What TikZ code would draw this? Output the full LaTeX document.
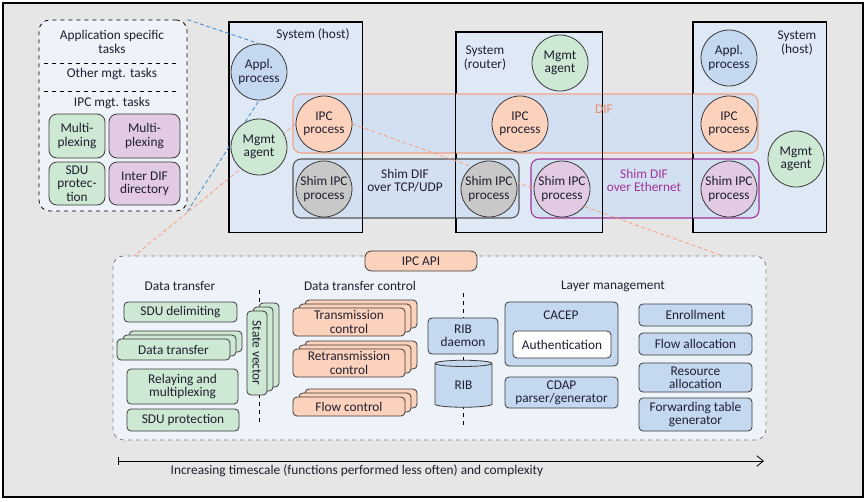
\documentclass[tikz,border=0pt]{standalone}
\usepackage{fontspec}
\setmainfont{Carlito}
\usepackage{tikz}
\usetikzlibrary{fit,shadows,shapes.geometric,arrows.meta}
\definecolor{bggray}{HTML}{E6E6E6}
\definecolor{panel}{HTML}{EEF3FA}
\definecolor{sysfill}{HTML}{DFE9F5}
\definecolor{diffill}{HTML}{D3E0F1}
\definecolor{applblue}{HTML}{C4D8EF}
\definecolor{agentgreen}{HTML}{CDE8D3}
\definecolor{ipcpeach}{HTML}{FDD2BC}
\definecolor{shimgray}{HTML}{C8C8C8}
\definecolor{shimpurple}{HTML}{E2CAE2}
\definecolor{difline}{HTML}{F4A283}
\definecolor{diftext}{HTML}{F08C64}
\definecolor{shimline}{HTML}{555555}
\definecolor{ethline}{HTML}{A1339A}
\definecolor{linkblue}{HTML}{3D8BD0}
\definecolor{linkorange}{HTML}{F4A080}
\definecolor{ink}{HTML}{1F1F30}
\definecolor{edge}{HTML}{3A3A3A}
\newcommand{\rinaprocsize}{42pt}
\pgfdeclarelayer{background}
\pgfdeclarelayer{links}
\pgfsetlayers{background,links,main}

\begin{document}
\begin{tikzpicture}[x=0.75pt,y=-0.75pt,
		every node/.style={font=\fontsize{10}{10}\selectfont,text=ink},
		proc/.style={circle,draw=edge,fill=#1,minimum size=\rinaprocsize,inner sep=0pt,align=center,line width=0.6pt},
		rbox/.style={draw=edge,fill=#1,rounded corners=3pt,inner sep=0pt,line width=0.6pt},
		rstack/.style={rbox=#1,double copy shadow={shadow xshift=4.5pt,shadow yshift=3pt}},
		boxtext/.style={align=center,inner sep=0pt},
		region/.style={draw=#1,fill=diffill,rounded corners=6pt,inner sep=0pt,line width=0.8pt},
		zoomline/.style={draw=#1,dash pattern=on 3pt off 2pt,line width=0.6pt}]
	\useasboundingbox (0,0) rectangle (867,501);
	\begin{pgfonlayer}{background}
	\node[fit={(3,3) (863,497)},draw=black,fill=bggray,inner sep=0pt,line width=0.9pt] (frame) {};
	\node[fit={(39,20) (187,211)},draw=black,dashed,fill=panel,rounded corners=8pt,inner sep=0pt,line width=0.6pt] (tasks) {};
	% systems
	\node[fit={(229,22) (362,232)},draw=black,fill=sysfill,inner sep=0pt] (sysL) {};
	\node[fit={(456,32) (602,232)},draw=black,fill=sysfill,inner sep=0pt] (sysR) {};
	\node[fit={(693,22) (826,232)},draw=black,fill=sysfill,inner sep=0pt] (sysH) {};
	% DIFs
	\node[fit={(293,94) (758,153)},region=difline] (dif) {};
	\node[fit={(293,159) (519,218)},region=shimline] (shimTCP) {};
	\node[fit={(531,159) (759,218)},region=ethline] (shimEth) {};
	\foreach \s in {sysL,sysR,sysH}
		\draw[black,line width=0.6pt] (\s.north west) rectangle (\s.south east);
	% detail of the IPC process
	\node[fit={(113,256) (766,440)},draw=gray,dashed,fill=panel,rounded corners=8pt,inner sep=0pt,line width=0.6pt] (detail) {};
	\end{pgfonlayer}

	% task panel
	\node[align=center] (appTasks) at (112,42) {Application specific\\tasks};
	\draw[dashed,line width=0.6pt] (44,63) -- (179,63);
	\node (otherTasks) at (112,74) {Other mgt. tasks};
	\draw[dashed,line width=0.6pt] (44,91) -- (179,91);
	\node (ipcTasks) at (112,103) {IPC mgt. tasks};
	\node[fit={(49,114) (105,158)},rbox=agentgreen,rounded corners=6pt,label={[boxtext]center:{Multi-\\plexing}}] (muxA) {};
	\node[fit={(109,114) (180,158)},rbox=shimpurple,rounded corners=6pt,label={[boxtext]center:{Multi-\\plexing}}] (muxB) {};
	\node[fit={(49,162) (105,205)},rbox=agentgreen,rounded corners=6pt,label={[boxtext]center:{SDU\\protec-\\tion}}] (sduProt) {};
	\node[fit={(109,162) (180,205)},rbox=shimpurple,rounded corners=6pt,label={[boxtext]center:{Inter DIF\\directory}}] (interDir) {};

	% labels
	\node (sysLlab) at (313,35) {System (host)};
	\node[align=center] (sysRlab) at (485,58) {System\\(router)};
	\node[align=center] (sysHlab) at (797,43) {System\\(host)};
	\node[text=diftext] (difLab) at (604,109) {DIF};
	\node[align=center] (tcpLab) at (405,180.5) {Shim DIF\\over TCP/UDP};
	\node[align=center,text=ethline] (ethLab) at (644,180.5) {Shim DIF\\over Ethernet};

	% processes
	\node[proc=applblue] (apA) at (259,72) {Appl.\\process};
	\node[proc=agentgreen] (agA) at (259,147) {Mgmt\\agent};
	\node[proc=ipcpeach] (ipcA) at (324,124) {IPC\\process};
	\node[proc=shimgray] (shimA) at (324,189) {Shim IPC\\process};
	\node[proc=agentgreen] (agR) at (560,63) {Mgmt\\agent};
	\node[proc=ipcpeach] (ipcR) at (520,124) {IPC\\process};
	\node[proc=shimgray] (shimR) at (489,189) {Shim IPC\\process};
	\node[proc=shimpurple] (ethR) at (562,189) {Shim IPC\\process};
	\node[proc=applblue] (apH) at (729,58) {Appl.\\process};
	\node[proc=ipcpeach] (ipcH) at (729,124) {IPC\\process};
	\node[proc=shimpurple] (ethH) at (729,189) {Shim IPC\\process};
	\node[proc=agentgreen] (agH) at (796,159) {Mgmt\\agent};

	% IPC process detail
	\node[fit={(365,251) (477,271)},rbox=ipcpeach,rounded corners=5pt,label={[boxtext]center:IPC API}] (ipcApi) {};
	\node (dtHead) at (180,286) {Data transfer};
	\node (dtcHead) at (360,286) {Data transfer control};
	\node (lmHead) at (613,286) {Layer management};
	\coordinate (sepAtop) at (259,290);
	\coordinate (sepAbot) at (259,423);
	\coordinate (sepBtop) at (463,293);
	\coordinate (sepBbot) at (463,427);
	\draw[dashed,line width=0.6pt] (sepAtop) -- (sepAbot);
	\draw[dashed,line width=0.6pt] (sepBtop) -- (sepBbot);

	\node[fit={(124,302) (237,322)},rbox=agentgreen,label={[boxtext]center:SDU delimiting}] (sduDelim) {};
	\node[fit={(117,339) (230,360)},rstack=agentgreen,label={[boxtext]center:Data transfer}] (dataT) {};
	\node[fit={(127,369) (238,404)},rbox=agentgreen,label={[boxtext]center:{Relaying and\\multiplexing}}] (relay) {};
	\node[fit={(127,409) (239,431)},rbox=agentgreen,label={[boxtext]center:SDU protection}] (sduProtB) {};
	\node[fit={(247,311) (267,395)},rstack=agentgreen,label={[boxtext,rotate=-90]center:State vector}] (stateV) {};

	\node[fit={(293,308) (405,336)},rstack=ipcpeach,label={[boxtext]center:{Transmission\\control}}] (txCtl) {};
	\node[fit={(293,349) (405,377)},rstack=ipcpeach,label={[boxtext]center:{Retransmission\\control}}] (rtxCtl) {};
	\node[fit={(293,397) (405,416)},rstack=ipcpeach,label={[boxtext]center:Flow control}] (flowCtl) {};

	\node[fit={(428,318) (498,354)},rbox=applblue,label={[boxtext]center:{RIB\\daemon}}] (ribD) {};
	\node[cylinder,shape border rotate=90,aspect=0.35,draw=edge,fill=applblue,minimum width=42.75pt,minimum height=35.25pt,inner sep=0pt,line width=0.6pt] (rib) at (463.5,385.5) {RIB};

	\node[fit={(505,302) (618,366)},rbox=applblue] (cacep) {};
	\node (cacepLab) at (561,315) {CACEP};
	\node[fit={(513,331) (611,358)},rbox=white,label={[boxtext]center:Authentication}] (auth) {};
	\node[fit={(505,377) (618,408)},rbox=applblue,label={[boxtext]center:{CDAP\\parser/generator}}] (cdap) {};

	\node[fit={(639,304) (752,326)},rbox=applblue,label={[boxtext]center:Enrollment}] (enrol) {};
	\node[fit={(639,333) (752,355)},rbox=applblue,label={[boxtext]center:Flow allocation}] (flowAlloc) {};
	\node[fit={(639,363) (752,392)},rbox=applblue,label={[boxtext]center:{Resource\\allocation}}] (resAlloc) {};
	\node[fit={(639,398) (752,431)},rbox=applblue,label={[boxtext]center:{Forwarding table\\generator}}] (fwdGen) {};

	% timescale
	\coordinate (tStart) at (118,461);
	\coordinate (tEnd) at (764,461);
	\draw[{Bar[width=6pt]}-{Straight Barb[length=5pt,width=8pt]},line width=0.6pt] (tStart) -- (tEnd);
	\node[anchor=west] (tLab) at (166,471) {Increasing timescale (functions performed less often) and complexity};

	% zoom lines
	\begin{pgfonlayer}{links}
	\coordinate (zoomL) at (134,256);
	\coordinate (zoomR) at (723,256);
	\draw[zoomline=linkblue] (tasks.north east) -- (apA.north);
	\draw[zoomline=linkblue] (tasks.south east) -- (apA.south);
	\draw[zoomline=linkorange] (ipcA.west) -- (zoomL);
	\draw[zoomline=linkorange] (ipcA.east) -- (zoomR);
	\end{pgfonlayer}
\end{tikzpicture}
\end{document}
